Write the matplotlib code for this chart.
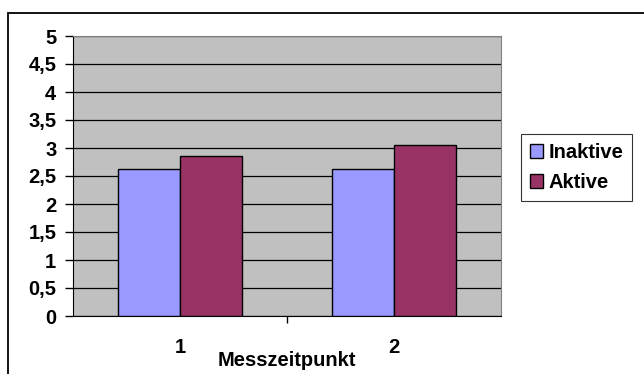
import matplotlib

matplotlib.use("Agg")
import matplotlib.pyplot as plt
import matplotlib.patches as mpatches
from matplotlib.ticker import FixedLocator, FuncFormatter
import numpy as np

plt.rcParams.update({
    "font.family": ["Liberation Sans", "DejaVu Sans"],
    "font.weight": "bold",
    "font.size": 14.5,
})

zeitpunkte = ["1", "2"]
inaktive = [2.62, 2.62]
aktive = [2.85, 3.05]
y_ticks = [0, 0.5, 1, 1.5, 2, 2.5, 3, 3.5, 4, 4.5, 5]

W, H = 644, 374
fig = plt.figure(figsize=(W / 100, H / 100), dpi=100)
ax = fig.add_axes([73 / W, 1 - 316 / H, (501 - 73) / W, (316 - 36) / H])

# chart frame (Excel-style outer border)
fig.patches.append(mpatches.Rectangle((8 / W, -0.1), 1.2, 1 - 13 / H + 0.1,
                                      transform=fig.transFigure, fill=False,
                                      edgecolor="black", lw=1.3))

x = np.arange(1, len(zeitpunkte) + 1)
bw = 0.2875
ax.bar(x - bw / 2, inaktive, bw, color="#9999ff", edgecolor="black", lw=1.0,
       label="Inaktive", zorder=3)
ax.bar(x + bw / 2, aktive, bw, color="#993366", edgecolor="black", lw=1.0,
       label="Aktive", zorder=3)

ax.set_facecolor("#c0c0c0")
ax.set_xlim(0.5, len(zeitpunkte) + 0.5)
ax.set_ylim(0, 5)
ax.set_yticks(y_ticks)
ax.yaxis.set_major_formatter(FuncFormatter(lambda v, _: f"{v:g}".replace(".", ",")))
ax.grid(axis="y", color="black", lw=0.9, zorder=1)

ax.set_xticks(x, labels=zeitpunkte)
ax.tick_params(axis="x", which="major", length=0, pad=16)
ax.xaxis.set_minor_locator(FixedLocator([1.5]))
ax.tick_params(axis="x", which="minor", length=5, width=1, direction="out")
ax.tick_params(axis="y", length=6, width=1, direction="out", pad=6)
for lab in ax.get_xticklabels() + ax.get_yticklabels():
    lab.set_fontweight("bold")

ax.set_xlabel("Messzeitpunkt", fontweight="bold")
ax.xaxis.set_label_coords(0.5, -0.125)

for s in ("top", "right"):
    ax.spines[s].set_color("#808080")
for s in ("left", "bottom"):
    ax.spines[s].set_color("black")

leg = fig.legend(loc="upper left", bbox_to_anchor=(521 / W, 1 - 134 / H),
                 frameon=True, fancybox=False, edgecolor="black",
                 handlelength=0.65, handleheight=0.65, handletextpad=0.25,
                 borderpad=0.45, labelspacing=0.55, borderaxespad=0,
                 prop={"weight": "bold", "size": 14.5})
leg.get_frame().set_linewidth(0.8)

fig.savefig("out.png", dpi=100)
